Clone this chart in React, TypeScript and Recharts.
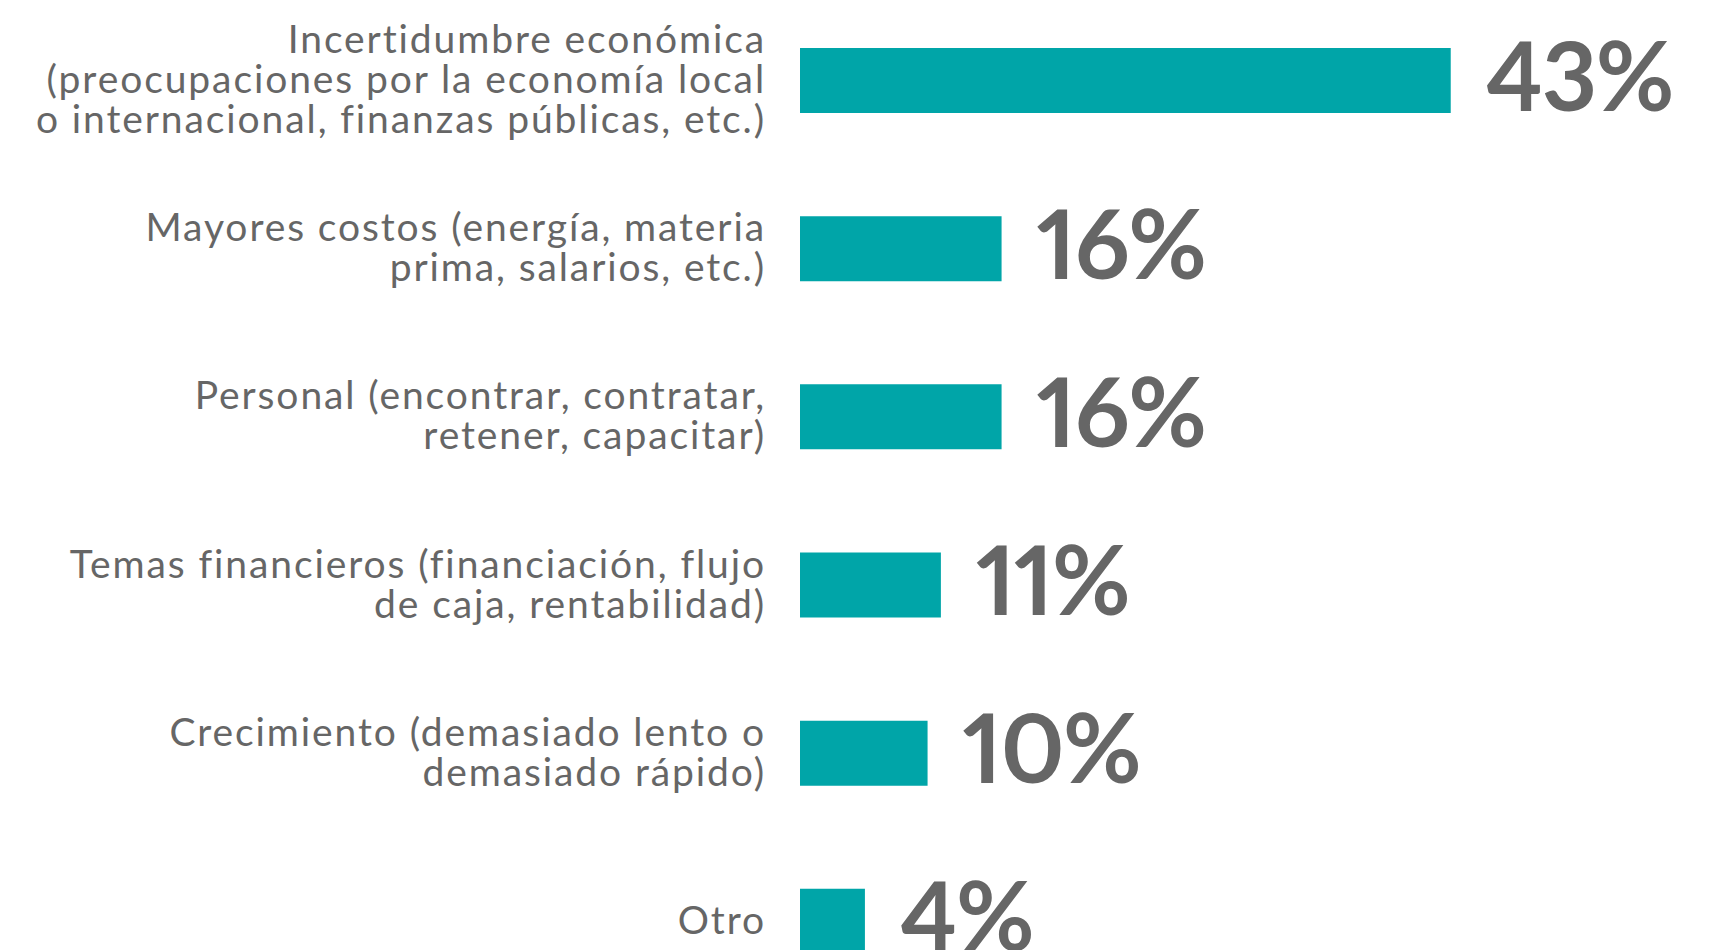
import React from "react";
import { BarChart, Bar, XAxis, YAxis, LabelList } from "recharts";

const categories = [
  "Incertidumbre económica\n(preocupaciones por la economía local\no internacional, finanzas públicas, etc.)",
  "Mayores costos (energía, materia\nprima, salarios, etc.)",
  "Personal (encontrar, contratar,\nretener, capacitar)",
  "Temas financieros (financiación, flujo\nde caja, rentabilidad)",
  "Crecimiento (demasiado lento o\ndemasiado rápido)",
  "Otro",
];

// bar lengths as drawn in the picture (in % units)
const barValues = [43, 13.32, 13.32, 9.31, 8.43, 4.29];

// printed labels
const valueLabels = ["43%", "16%", "16%", "11%", "10%", "4%"];

const data = categories.map((c, i) => ({
  category: c,
  value: barValues[i],
  label: valueLabels[i],
}));

const TEXT_COLOR = "#666666";
const BAR_COLOR = "#00A5A8";

const CategoryTick = (props: any) => {
  const { x, y, payload } = props;
  const lines: string[] = String(payload.value).split("\n");
  const n = lines.length;
  const lineH = 40;
  return (
    <text
      x={x}
      y={y}
      textAnchor="end"
      fill={TEXT_COLOR}
      fontSize={39}
      letterSpacing={1.9}
      fontFamily="Lato, sans-serif"
    >
      {lines.map((l, i) => (
        <tspan key={i} x={x} dy={i === 0 ? -((n - 1) / 2) * lineH + 13 : lineH}>
          {l}
        </tspan>
      ))}
    </text>
  );
};

const ValueLabel = (props: any) => {
  const { x, y, width, height, value } = props;
  return (
    <text
      x={Number(x) + Number(width) + 35}
      y={Number(y) + Number(height) / 2 + 30}
      fill={TEXT_COLOR}
      fontSize={96}
      fontWeight={700}
      letterSpacing={-1.5}
      fontFamily="Lato, sans-serif"
      textAnchor="start"
      style={{ fontVariantNumeric: "proportional-nums" }}
    >
      {value}
    </text>
  );
};

export default function App() {
  return (
    <div
      style={{
        position: "fixed",
        left: 0,
        top: 0,
        width: 1727,
        height: 950,
        overflow: "hidden",
        background: "#ffffff",
      }}
    >
      <div style={{ marginTop: -14 }}>
        <BarChart
          width={1727}
          height={1019}
          data={data}
          layout="vertical"
          margin={{ top: 10, right: 19, bottom: 0, left: 0 }}
        >
          <XAxis type="number" domain={[0, 60]} hide />
          <YAxis
            type="category"
            dataKey="category"
            width={800}
            axisLine={false}
            tickLine={false}
            tickSize={0}
            tickMargin={34}
            interval={0}
            tick={<CategoryTick />}
          />
          <Bar dataKey="value" fill={BAR_COLOR} barSize={65} isAnimationActive={false}>
            <LabelList dataKey="label" content={<ValueLabel />} />
          </Bar>
        </BarChart>
      </div>
    </div>
  );
}
